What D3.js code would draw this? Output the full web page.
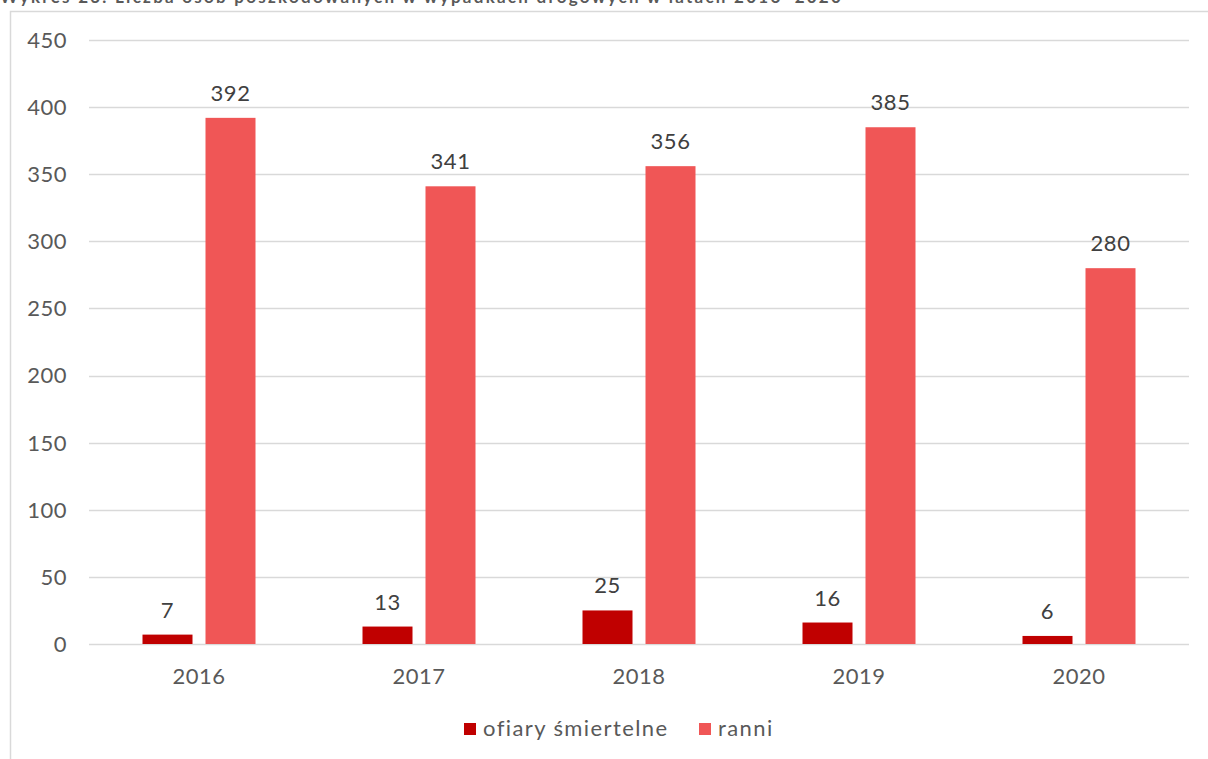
<!DOCTYPE html>
<html><head><meta charset="utf-8">
<script src="https://cdn.jsdelivr.net/npm/d3@7"></script>
<style>
html,body{margin:0;padding:0;background:#fff;}
svg{display:block;font-family:"Lato","Open Sans",sans-serif;}
</style></head>
<body>
<svg id="c" width="1208" height="759"></svg>
<script>
const title = "Wykres 23. Liczba osób poszkodowanych w wypadkach drogowych w latach 2016–2020";
const years = ["2016","2017","2018","2019","2020"];
const seriesNames = ["ofiary śmiertelne","ranni"];
const fatalities = [7,13,25,16,6];
const injured = [392,341,356,385,280];
const yTicks = [0,50,100,150,200,250,300,350,400,450];
const colors = ["#C00000","#F05656"];

const svg = d3.select("#c");
const plot = {left:89, right:1189, top:40, bottom:644};

// frame
svg.append("rect").attr("x",10.5).attr("y",11.5).attr("width",1220).attr("height",780)
  .attr("fill","#fff").attr("stroke","#d9d9d9").attr("stroke-width",1.5);

// title (cut off at top, as in the reference)
svg.append("text").attr("x",0).attr("y",3).attr("font-size",17).attr("font-weight","bold")
  .attr("letter-spacing",2.25).attr("fill","#595959").text(title);

const x0 = d3.scaleBand().domain(years).range([plot.left,plot.right]).paddingInner(0).paddingOuter(0);
const y = d3.scaleLinear().domain([0,450]).range([plot.bottom,plot.top]);

// gridlines
svg.append("g").selectAll("line").data(yTicks).join("line")
  .attr("x1",plot.left).attr("x2",plot.right)
  .attr("y1",d=>Math.round(y(d))+0.5).attr("y2",d=>Math.round(y(d))+0.5)
  .attr("stroke","#d9d9d9").attr("stroke-width",1.5);

// y tick labels
svg.append("g").selectAll("text").data(yTicks).join("text")
  .attr("x",67).attr("y",d=>y(d)).attr("dy","0.36em").attr("text-anchor","end")
  .attr("font-size",22).attr("letter-spacing",0.5).attr("fill","#595959").text(d=>d);

// x labels
svg.append("g").selectAll("text").data(years).join("text")
  .attr("x",d=>x0(d)+x0.bandwidth()/2).attr("y",684).attr("text-anchor","middle")
  .attr("font-size",22).attr("letter-spacing",0.5).attr("fill","#595959").text(d=>d);

const barW = 50, gap = 13;
const data = [fatalities, injured];
data.forEach((vals,si)=>{
  const offset = si===0 ? -(barW+gap/2) : gap/2;
  const g = svg.append("g");
  g.selectAll("rect").data(vals).join("rect")
    .attr("x",(d,i)=>x0(years[i])+x0.bandwidth()/2+offset)
    .attr("y",d=>y(d)).attr("width",barW).attr("height",d=>y(0)-y(d))
    .attr("fill",colors[si]);
  g.selectAll("text").data(vals).join("text")
    .attr("x",(d,i)=>x0(years[i])+x0.bandwidth()/2+offset+barW/2)
    .attr("y",d=>y(d)-17).attr("text-anchor","middle")
    .attr("font-size",22).attr("letter-spacing",0.5).attr("fill","#404040").text(d=>d);
});

// legend
const leg = svg.append("g");
const legItems = [{x:464,name:seriesNames[0],c:colors[0]},{x:699,name:seriesNames[1],c:colors[1]}];
legItems.forEach(it=>{
  leg.append("rect").attr("x",it.x).attr("y",723).attr("width",12).attr("height",12).attr("fill",it.c);
  leg.append("text").attr("x",it.x+19).attr("y",736).attr("font-size",22)
    .attr("letter-spacing",1.4).attr("fill","#595959").text(it.name);
});
</script>
</body></html>
